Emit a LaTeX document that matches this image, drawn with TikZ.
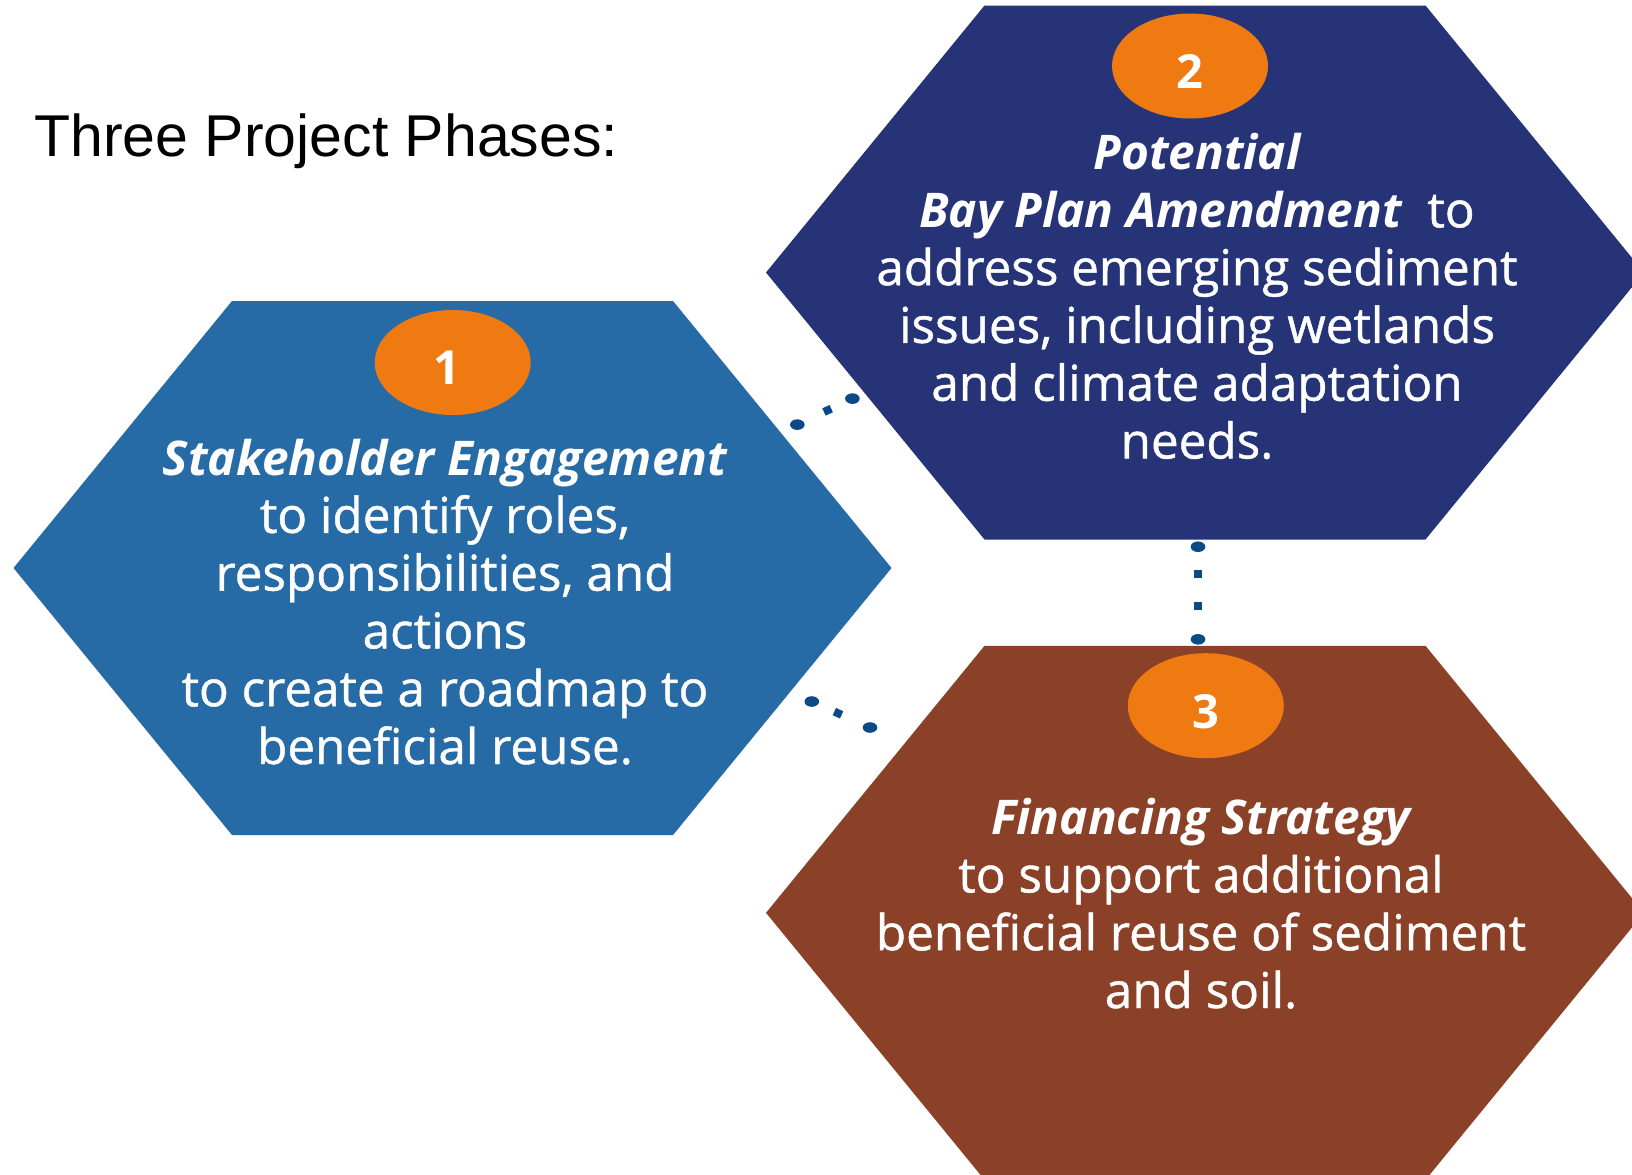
\documentclass[tikz,border=0pt]{standalone}
\usepackage{fontspec}
\setmainfont{Open Sans}
\newfontfamily\bodyfont{Open Sans}[FakeBold=0.9]
\newfontfamily\headfont{Open Sans}
\newfontfamily\titlefont{Liberation Sans}
\usetikzlibrary{calc,shapes.geometric}
\definecolor{hexA}{HTML}{266AA6}
\definecolor{hexB}{HTML}{263477}
\definecolor{hexC}{HTML}{8A4128}
\definecolor{badgec}{HTML}{F07A12}
\definecolor{dotc}{HTML}{0B4A86}
\begin{document}
\begin{tikzpicture}[x=0.5pt,y=-0.5pt,
  hexshape/.style={insert path={++(-220.5,-267) -- ++(441,0) -- ++(218.5,267) -- ++(-218.5,267) -- ++(-441,0) -- ++(-218.5,-267) -- cycle}},
  badge/.style={ellipse, fill=badgec, minimum width=78pt, minimum height=52.5pt, inner sep=0pt},
  digit/.style={inner sep=0pt, text=white, font=\headfont\bfseries\fontsize{23.5}{28}\selectfont},
  body/.style={align=center, text=white, inner sep=0pt, font=\bodyfont\fontsize{24.7}{28.9}\selectfont},
  enddot/.style={ellipse, fill=dotc, minimum width=7.3pt, minimum height=5.3pt, inner sep=0pt},
  sqdot/.style={rectangle, fill=dotc, minimum size=4pt, inner sep=0pt, sloped}]
\useasboundingbox (0,0) rectangle (1632,1174);
\fill[white] (0,0) rectangle (1632,1174);

\coordinate (h1) at (452.5,568);
\coordinate (h2) at (1205,272.5);
\coordinate (h3) at (1205,912.8);
\fill[hexA] (h1) [hexshape];
\fill[hexB] (h2) [hexshape];
\fill[hexC] (h3) [hexshape];

\node[anchor=base west, inner sep=0pt, font=\titlefont\fontsize{29.5}{36}\selectfont] (title) at (34,156) {Three Project Phases:};

\node[badge] (b1) at (452.7,362.5) {};
\node[badge] (b2) at (1190,66) {};
\node[badge] (b3) at (1205.8,705.7) {};
\node[digit] (n1) at ($(b1)+(-6,5.5)$) {1};
\node[digit] (n2) at ($(b2)+(0,5.5)$) {2};
\node[digit] (n3) at ($(b3)+(0,5.5)$) {3};

\newcommand\hdtext[1]{{\headfont\bfseries\itshape\fontsize{23.9}{28.9}\selectfont #1}}
\node[body, anchor=base] (t1) at (445,764) {\hdtext{Stakeholder Engagement}\\to identify roles,\\responsibilities, and\\actions\\to create a roadmap to\\beneficial reuse.};
\node[body, anchor=base] (t2) at (1197,458.5) {\hdtext{Potential}\\\hdtext{Bay Plan Amendment}\ \ to\\address emerging sediment\\issues, including wetlands\\and climate adaptation\\needs.};
\node[body, anchor=base] (t3) at (1201,1008) {\hdtext{Financing Strategy}\\to support additional\\beneficial reuse of sediment\\and soil.};

\coordinate (c1a) at (797.3,424.6);
\coordinate (c1b) at (852.4,398.6);
\coordinate (c2a) at (811.8,701.5);
\coordinate (c2b) at (870,727.5);
\coordinate (c3a) at (1198,546.7);
\coordinate (c3b) at (1198,639.3);
\path (c1a) -- (c1b) node[pos=0, enddot] (d1a) {} node[pos=0.55, sqdot] (d1m) {} node[pos=1, enddot] (d1b) {};
\path (c2a) -- (c2b) node[pos=0, enddot] (d2a) {} node[pos=0.45, sqdot] (d2m) {} node[pos=1, enddot] (d2b) {};
\path (c3a) -- (c3b) node[pos=0, enddot] (d3a) {} node[pos=0.29, sqdot] (d3m) {} node[pos=0.64, sqdot] (d3n) {} node[pos=1, enddot] (d3b) {};
\end{tikzpicture}
\end{document}
